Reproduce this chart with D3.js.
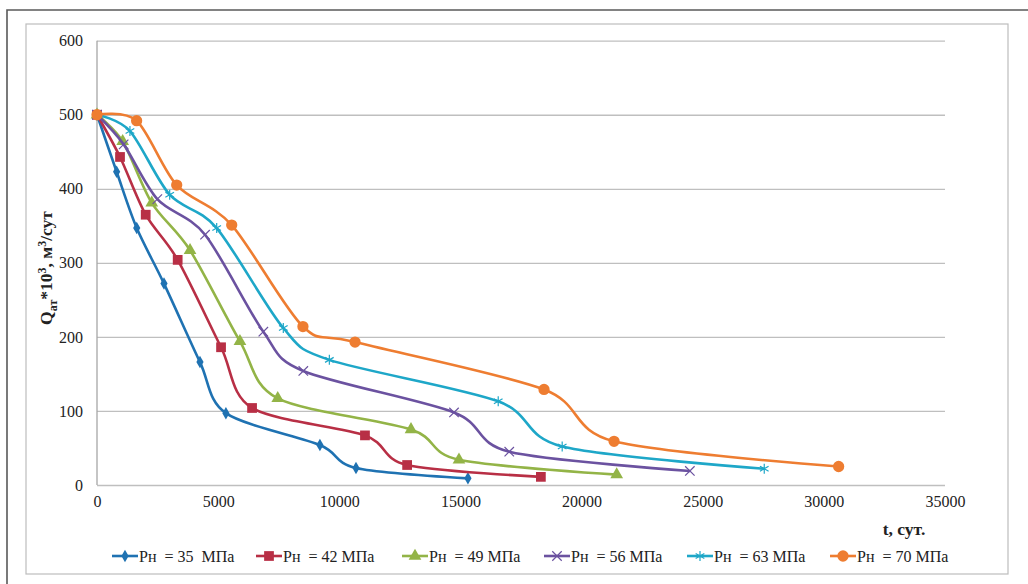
<!DOCTYPE html>
<html>
<head>
<meta charset="utf-8">
<script src="https://cdn.jsdelivr.net/npm/d3@7"></script>
<style>
  body { margin: 0; background: #fff; }
  svg text { font-family: "Liberation Serif", "DejaVu Serif", serif; fill: #222; }
</style>
</head>
<body>
<div id="chart"></div>
<script>
// series names and values (t in days, Q in thousands m3/day)
const seriesNames = ["Pн  = 35  МПа", "Pн  = 42 МПа", "Pн  = 49 МПа", "Pн  = 56 МПа", "Pн  = 63 МПа", "Pн  = 70 МПа"]
const seriesColors = ["#1f72b2", "#b82f45", "#93b447", "#6b52a0", "#1ea7c8", "#ee7d31"]

const t35 = [0, 810, 1640, 2765, 4250, 5320, 9200, 10690, 15310]
const q35 = [500, 423, 347, 272, 166, 97, 54, 23, 9]
const t42 = [0, 950, 2010, 3330, 5120, 6400, 11060, 12800, 18320]
const q42 = [500, 443, 365, 304, 186, 104, 67, 27, 11]
const t49 = [0, 1060, 2260, 3840, 5900, 7460, 12960, 14940, 21450]
const q49 = [500, 464, 381, 317, 194, 117, 75, 34, 14]
const t56 = [0, 1100, 2490, 4460, 6865, 8515, 14735, 17015, 24470]
const q56 = [500, 460, 386, 338, 207, 154, 98, 45, 19]
const t63 = [0, 1360, 3000, 4940, 7690, 9590, 16560, 19200, 27540]
const q63 = [500, 478, 392, 347, 212, 169, 113, 52, 22]
const t70 = [0, 1635, 3290, 5560, 8500, 10650, 18450, 21340, 30610]
const q70 = [500, 492, 405, 351, 214, 193, 129, 59, 25]

const xTicks = [0, 5000, 10000, 15000, 20000, 25000, 30000, 35000]
const yTicks = [0, 100, 200, 300, 400, 500, 600]

const tSets = [t35, t42, t49, t56, t63, t70]
const qSets = [q35, q42, q49, q56, q63, q70]
const symbols = [d3.symbolDiamond, d3.symbolSquare, d3.symbolTriangle, d3.symbolX, d3.symbolAsterisk, d3.symbolCircle]
const symSizes = [45, 95, 70, 60, 70, 100]

const W = 1028, H = 584
const svg = d3.select("#chart").append("svg").attr("width", W).attr("height", H)

// outer page frame
svg.append("path").attr("d", "M7,584 V10 H1028").attr("fill", "none")
    .attr("stroke", "#595959").attr("stroke-width", 1.6)
// chart area frame
svg.append("rect").attr("x", 26).attr("y", 24).attr("width", 982).attr("height", 550)
    .attr("fill", "#fff").attr("stroke", "#bdbdbd").attr("stroke-width", 1.2)

let x = d3.scaleLinear().domain([0, 35000]).range([97, 945])
let y = d3.scaleLinear().domain([0, 600]).range([485, 40.7])

// horizontal gridlines
svg.append("g")
    .attr("transform", "translate(" + x(0) + ",0)")
    .call(d3.axisLeft(y).tickValues(yTicks).tickSize(-(x(35000) - x(0))).tickFormat(""))
    .call(g => {
        g.select(".domain").remove()
        g.selectAll(".tick line").attr("stroke", "#bfbfbf").attr("stroke-width", 1.3)
    })

// y axis line
svg.append("line").attr("x1", x(0)).attr("x2", x(0)).attr("y1", y(600)).attr("y2", y(0))
    .attr("stroke", "#a6a6a6").attr("stroke-width", 1.3)

// y tick labels
svg.append("g")
    .attr("transform", "translate(" + x(0) + ",0)")
    .call(d3.axisLeft(y).tickValues(yTicks).tickSize(0).tickPadding(14))
    .call(g => {
        g.select(".domain").remove()
        g.selectAll(".tick text").attr("font-size", 16).attr("fill", "#222")
    })

// x tick labels
svg.append("g")
    .attr("transform", "translate(0," + y(0) + ")")
    .call(d3.axisBottom(x).tickValues(xTicks).tickSize(0).tickPadding(11).tickFormat(d3.format("d")))
    .call(g => {
        g.select(".domain").remove()
        g.selectAll(".tick text").attr("font-size", 16).attr("fill", "#222")
    })

// axis titles
svg.append("text").attr("x", 904).attr("y", 535).attr("text-anchor", "middle")
    .attr("font-size", 17.5).attr("font-weight", "bold").text("t, сут.")

let yt = svg.append("text").attr("transform", "translate(52,268) rotate(-90)")
    .attr("text-anchor", "middle").attr("font-size", 17.5).attr("font-weight", "bold")
yt.append("tspan").text("Q")
yt.append("tspan").attr("font-size", 12).attr("dy", 5).text("ат")
yt.append("tspan").attr("dy", -5).text("*10")
yt.append("tspan").attr("font-size", 12).attr("dy", -6).text("3")
yt.append("tspan").attr("dy", 6).text(", м")
yt.append("tspan").attr("font-size", 12).attr("dy", -6).text("3")
yt.append("tspan").attr("dy", 6).text("/сут")

// series lines and markers
let line = d3.line().x(d => x(d[0])).y(d => y(d[1])).curve(d3.curveCardinal.tension(0.1))

tSets.forEach((ts, i) => {
    let pts = ts.map((t, j) => [t, qSets[i][j]])
    let strokeSym = i === 3 || i === 4
    svg.append("path").datum(pts)
        .attr("fill", "none").attr("stroke", seriesColors[i]).attr("stroke-width", 2.6)
        .attr("d", line)
    svg.append("g").selectAll("path").data(pts).enter().append("path")
        .attr("transform", d => "translate(" + x(d[0]) + "," + y(d[1]) + ")")
        .attr("d", d3.symbol().type(symbols[i]).size(symSizes[i]))
        .attr("fill", strokeSym ? "none" : seriesColors[i])
        .attr("stroke", strokeSym ? seriesColors[i] : "none")
        .attr("stroke-width", 1.2)
})

// legend
const legX = [112, 256, 402, 544, 687, 830]
let leg = svg.append("g")
seriesNames.forEach((name, i) => {
    let g = leg.append("g").attr("transform", "translate(" + legX[i] + ",556)")
    let strokeSym = i === 3 || i === 4
    g.append("line").attr("x1", 0).attr("x2", 26).attr("y1", 0).attr("y2", 0)
        .attr("stroke", seriesColors[i]).attr("stroke-width", 2.6)
    g.append("path").attr("transform", "translate(13,0)")
        .attr("d", d3.symbol().type(symbols[i]).size(symSizes[i]))
        .attr("fill", strokeSym ? "none" : seriesColors[i])
        .attr("stroke", strokeSym ? seriesColors[i] : "none").attr("stroke-width", 1.2)
    g.append("text").attr("x", 27).attr("y", 5.5).attr("font-size", 16)
        .style("white-space", "pre").text(name)
})
</script>
</body>
</html>
